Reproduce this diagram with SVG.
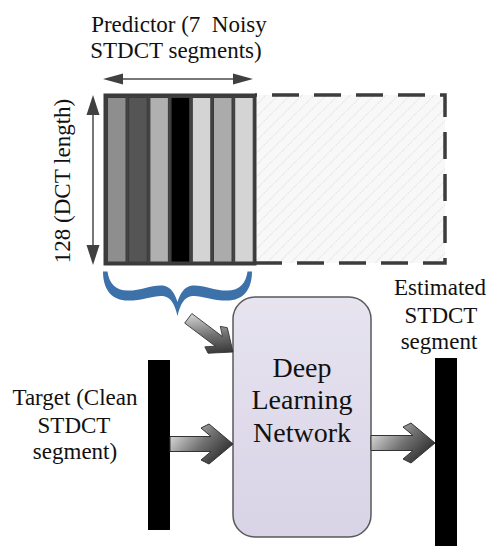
<svg xmlns="http://www.w3.org/2000/svg" width="501" height="550" viewBox="0 0 501 550">
<style>
  .t { font-family: "Liberation Serif", "Times New Roman", "DejaVu Serif", serif; font-size: 23px; fill: #111; text-anchor: middle; }
  .big { font-size: 28px; }
  .blk { fill: #000; }
  .stripe { stroke: #3a3a3a; stroke-width: 1; }
  .garrow { fill: url(#ag); stroke: #333; stroke-width: 1; }
  .thin { stroke: #4a4a4a; stroke-width: 1.5; fill: none; }
  .head { fill: #404040; }
</style>
<defs>
  <linearGradient id="ag" x1="0" y1="0.2" x2="1" y2="0.8">
    <stop offset="0" stop-color="#e2e2e2"/>
    <stop offset="0.5" stop-color="#727272"/>
    <stop offset="1" stop-color="#222"/>
  </linearGradient>
  <linearGradient id="dln" x1="0" y1="0" x2="0" y2="1">
    <stop offset="0" stop-color="#e7e4f0"/>
    <stop offset="1" stop-color="#d8d3e6"/>
  </linearGradient>
  <pattern id="hatch" width="8.5" height="8.5" patternUnits="userSpaceOnUse" patternTransform="rotate(45)">
    <rect width="8.5" height="8.5" fill="#f8f8f8"/>
    <line x1="0" y1="0" x2="0" y2="8.5" stroke="#cfcfcf" stroke-width="1" stroke-dasharray="2 1"/>
  </pattern>
</defs>

<g id="predictor">
  <rect x="255" y="95" width="190" height="168" fill="url(#hatch)"/>
  <path d="M255,263 L445,263 L445,95 L255,95" fill="none" stroke="#3c3c3c" stroke-width="3.5" stroke-dasharray="27 15"/>
  <rect x="105" y="95" width="150" height="169" fill="#444" stroke="#3a3a3a" stroke-width="3"/>
  <rect class="stripe" x="107.5" y="97.5" width="18.5" height="164.5" fill="#8e8e8e"/>
  <rect class="stripe" x="128.7" y="97.5" width="18.5" height="164.5" fill="#555"/>
  <rect class="stripe" x="149.9" y="97.5" width="18.5" height="164.5" fill="#b0b0b0"/>
  <rect class="stripe" x="171.1" y="97.5" width="18.5" height="164.5" fill="#000"/>
  <rect class="stripe" x="192.3" y="97.5" width="18.5" height="164.5" fill="#d4d4d4"/>
  <rect class="stripe" x="213.5" y="97.5" width="18.5" height="164.5" fill="#ababab"/>
  <rect class="stripe" x="234.7" y="97.5" width="18.5" height="164.5" fill="#d4d4d4"/>
</g>

<g id="predictor-label">
  <text class="t" x="179" y="31.5" style="white-space:pre">Predictor (7  Noisy</text>
  <text class="t" x="176" y="57.5">STDCT segments)</text>
</g>

<g id="length-label">
  <text class="t" transform="translate(70,181) rotate(-90)">128 (DCT length)</text>
</g>

<g id="dimension-arrows">
  <line class="thin" x1="118" y1="79" x2="240" y2="79"/>
  <polygon class="head" points="103,79 123,73.5 123,84.5"/>
  <polygon class="head" points="253,79 233,73.5 233,84.5"/>
  <line class="thin" x1="93" y1="110" x2="93" y2="250"/>
  <polygon class="head" points="93,95 86.5,115 99.5,115"/>
  <polygon class="head" points="93,265 86.5,245 99.5,245"/>
</g>

<g id="brace">
  <path fill="#3d71a9" d="M103,271.5 C103,290 112,300.5 128,300.5 C143,300.5 155,295 163,296 C171,297 175,305 177.5,316 C180,305 184,297 192,296 C200,295 212,300.5 227,300.5 C243,300.5 252,290 252,271.5 L247.5,271.5 C246,283 240,290.5 227,290.5 C213,290.5 203,284.5 192,285.5 C184,286.5 180,294 177.5,302 C175,294 171,286.5 163,285.5 C152,284.5 142,290.5 128,290.5 C115,290.5 109,283 107.5,271.5 Z"/>
</g>

<g id="dln">
  <rect x="233" y="297" width="138" height="240" rx="22" ry="22" fill="url(#dln)" stroke="#5a5a5a" stroke-width="1.5"/>
  <text class="t big" x="302" y="377">Deep</text>
  <text class="t big" x="302" y="409">Learning</text>
  <text class="t big" x="302" y="442">Network</text>
</g>

<g id="target">
  <rect class="blk" x="148" y="360" width="22" height="170"/>
  <text class="t" x="75" y="405">Target (Clean</text>
  <text class="t" x="74" y="433">STDCT</text>
  <text class="t" x="75" y="459">segment)</text>
</g>

<g id="estimate">
  <rect class="blk" x="435" y="358" width="22" height="188"/>
  <text class="t" x="440" y="295">Estimated</text>
  <text class="t" x="441" y="323">STDCT</text>
  <text class="t" x="439" y="349">segment</text>
</g>

<g id="connectors">
  <path class="garrow" transform="translate(233,352) rotate(37) scale(0.8)" d="M-70,-7.5 L-22,-7.5 L-32,-16 L-24,-20 L0,0 L-24,20 L-32,16 L-22,7.5 L-70,7.5 Z"/>
  <path class="garrow" transform="translate(233,444)" d="M-63,-7.5 L-22,-7.5 L-32,-16 L-24,-20 L0,0 L-24,20 L-32,16 L-22,7.5 L-63,7.5 Z"/>
  <path class="garrow" transform="translate(435,443)" d="M-64,-7.5 L-22,-7.5 L-32,-16 L-24,-20 L0,0 L-24,20 L-32,16 L-22,7.5 L-64,7.5 Z"/>
</g>
</svg>
